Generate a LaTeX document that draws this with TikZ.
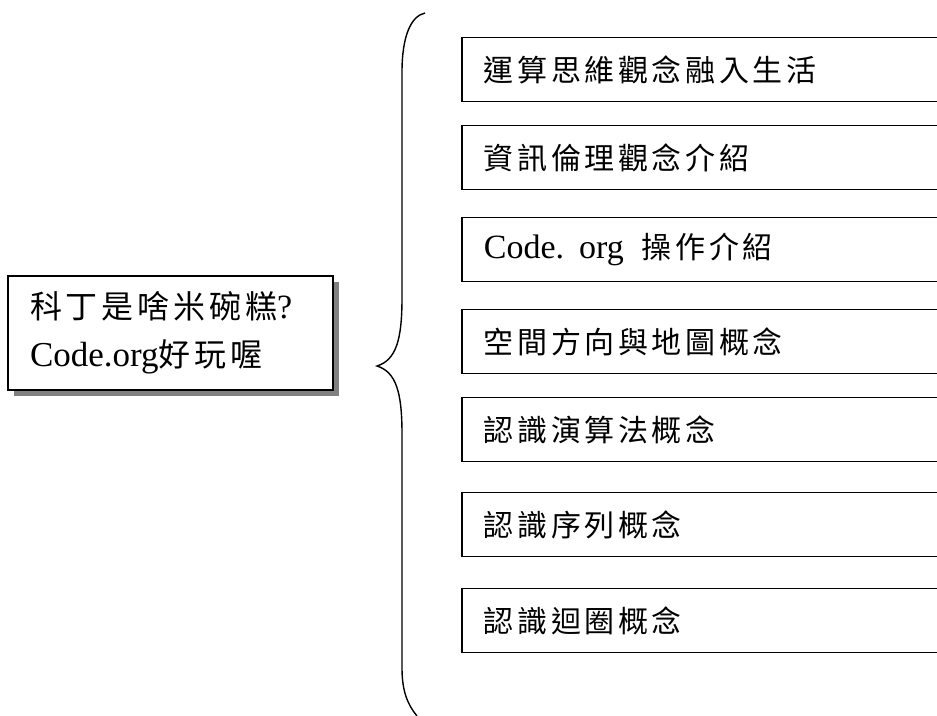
\documentclass[tikz,border=0pt]{standalone}
\usepackage{fontspec}
\setmainfont{Liberation Serif}
\newfontfamily\cjk[LetterSpace=12]{Noto Sans CJK TC}
\usetikzlibrary{shadows}

\begin{document}
\begin{tikzpicture}[x=1pt,y=-1pt,line join=miter,
  topic/.style ={rectangle, draw=black, line width=1.6pt, fill=white, inner xsep=22pt, inner ysep=0pt,
    text width=281pt, align=left, minimum height=114pt,
    drop shadow={shadow xshift=6pt,shadow yshift=-6pt,fill=black!50,opacity=1},
    font=\fontsize{32}{48}\selectfont\cjk},
  item/.style ={rectangle, draw=black, line width=1.8pt, inner xsep=22pt, inner ysep=0pt,
    text width=500pt, align=left, minimum height=64pt, anchor=west,
    font=\fontsize{30}{34}\selectfont\cjk}]
\useasboundingbox (0,0) rectangle (937,715);
\clip (0,0) rectangle (937,715);
\draw (170.5,333) node[topic] (T) {科丁是啥米碗糕{\rmfamily\fontsize{34}{48}\selectfont ?}\\{\rmfamily\fontsize{35}{48}\selectfont Code.org}好玩喔};
\draw (461,69.5) node[item] (A) {運算思維觀念融入生活};
\draw (461,157.5) node[item] (B) {資訊倫理觀念介紹};
\draw (461,249.5) node[item] (C) {{\rmfamily\fontsize{34}{34}\selectfont Code. org}\hspace{18pt}操作介紹};
\draw (461,341.5) node[item] (D) {空間方向與地圖概念};
\draw (461,429.5) node[item] (E) {認識演算法概念};
\draw (461,524.5) node[item] (F) {認識序列概念};
\draw (461,620.5) node[item] (G) {認識迴圈概念};
% brace
\coordinate (tip) at (377,366);
\draw[line width=1.4pt] (425,13) .. controls (411,16) and (402,36) .. (402,72) -- (402,298)
  .. controls (402,340) and (396,360) .. (tip) .. controls (396,372) and (402,392) .. (402,434)
  -- (402,668) .. controls (402,690) and (407,704) .. (417,716);
\end{tikzpicture}
\end{document}
